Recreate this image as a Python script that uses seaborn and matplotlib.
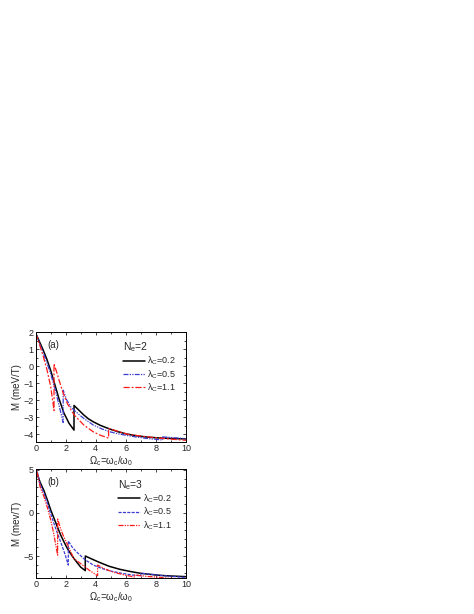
"""Magnetization M vs Omega_c for N_e=2 (a) and N_e=3 (b), three lambda_C values."""
import matplotlib
matplotlib.use("Agg")
import matplotlib.pyplot as plt
from matplotlib.ticker import MultipleLocator
import seaborn as sns

# ---- panel (a): N_e = 2 ------------------------------------------------
A_X_02 = [0, 0.25, 0.5, 0.75, 1.0, 1.25, 1.55, 1.88, 2.22, 2.55, 2.55, 2.9, 3.2, 3.5,
          3.83, 4.3, 4.94, 5.5, 6.05, 6.7, 7.38, 8.2, 9.0, 10]
A_Y_02 = [1.95, 1.45, 0.95, 0.4, -0.25, -1.0, -1.9, -2.75, -3.35, -3.75, -2.3, -2.6,
          -2.86, -3.08, -3.26, -3.47, -3.69, -3.85, -3.98, -4.08, -4.16, -4.21, -4.24, -4.27]
A_X_05 = [0, 0.25, 0.5, 0.75, 1.0, 1.25, 1.5, 1.83, 1.83, 2.05, 2.33, 2.55, 2.9, 3.2,
          3.83, 4.4, 4.94, 5.5, 6.05, 6.8, 7.6, 8.45, 8.45, 9.2, 10]
A_Y_05 = [1.95, 1.35, 0.8, 0.2, -0.45, -1.2, -2.1, -3.3, -1.4, -1.95, -2.38, -2.57,
          -2.85, -3.06, -3.45, -3.68, -3.85, -3.97, -4.06, -4.17, -4.26, -4.33, -4.15,
          -4.2, -4.25]
A_X_11 = [0, 0.25, 0.5, 0.75, 1.0, 1.22, 1.22, 1.4, 1.55, 1.8, 2.1, 2.55, 3.2, 3.83,
          4.3, 4.85, 4.85, 5.4, 6.05, 7.0, 8.0, 9.0, 10]
A_Y_11 = [1.95, 1.3, 0.6, -0.2, -1.2, -2.6, 0.15, -0.35, -0.8, -1.5, -2.18, -2.85,
          -3.45, -3.85, -4.05, -4.22, -3.65, -3.8, -3.98, -4.1, -4.2, -4.28, -4.35]

# ---- panel (b): N_e = 3 ------------------------------------------------
B_X_02 = [0, 0.3, 0.55, 0.8, 1.0, 1.25, 1.44, 1.66, 1.88, 2.1, 2.33, 2.55, 2.77, 3.0,
          3.3, 3.3, 3.8, 4.28, 4.9, 5.61, 6.3, 6.94, 7.6, 8.27, 9.1, 10]
B_Y_02 = [5.0, 3.55, 2.6, 1.4, 0.35, -0.75, -1.6, -2.55, -3.35, -4.1, -4.75, -5.3,
          -5.8, -6.3, -6.7, -5.0, -5.4, -5.77, -6.2, -6.55, -6.8, -7.0, -7.13, -7.25,
          -7.33, -7.4]
B_X_05 = [0, 0.08, 0.3, 0.55, 0.8, 1.0, 1.25, 1.5, 1.75, 1.95, 2.17, 2.17, 2.4, 2.65,
          2.95, 3.3, 3.83, 4.4, 5.0, 5.7, 6.4, 7.0, 7.0, 7.8, 8.6, 9.3, 10]
B_Y_05 = [4.3, 5.0, 3.3, 2.3, 1.0, -0.1, -1.4, -2.6, -3.8, -4.8, -6.05, -3.25, -3.9,
          -4.4, -4.9, -5.45, -6.05, -6.45, -6.75, -7.0, -7.2, -7.3, -7.0, -7.15, -7.3,
          -7.4, -7.5]
B_X_11 = [0, 0.08, 0.3, 0.55, 0.8, 1.0, 1.2, 1.46, 1.46, 1.65, 1.85, 2.1, 2.35, 2.55,
          2.85, 3.2, 3.6, 4.12, 4.12, 4.6, 5.2, 5.9, 6.6, 6.6, 7.3, 8.0, 9.0, 10]
B_Y_11 = [3.8, 4.9, 3.0, 1.9, 0.5, -0.8, -2.4, -4.9, -0.7, -1.8, -2.7, -3.6, -4.6,
          -5.3, -5.7, -6.15, -6.7, -7.3, -6.05, -6.5, -6.9, -7.2, -7.45, -7.2, -7.35,
          -7.45, -7.6, -7.7]

LAMBDAS = ["0.2", "0.5", "1.1"]

BLACK = "#000000"
BLUE = "#3c3cd0"
RED = "#ff1a1a"

sns.set_theme(style="ticks")
plt.rcParams["font.family"] = ["Liberation Sans", "DejaVu Sans"]
plt.rcParams["mathtext.fontset"] = "custom"
plt.rcParams["mathtext.rm"] = "Liberation Sans"
plt.rcParams["mathtext.it"] = "Liberation Sans"
plt.rcParams["mathtext.bf"] = "Liberation Sans:bold"

fig = plt.figure(figsize=(4.74, 6.14), dpi=100)
ax_a = fig.add_axes([0.0753, 0.2801, 0.317, 0.1787])
ax_b = fig.add_axes([0.0753, 0.0580, 0.317, 0.1780])

panels = [
    (ax_a, [(A_X_02, A_Y_02), (A_X_05, A_Y_05), (A_X_11, A_Y_11)],
     ["-", (0, (4, 1, 1, 1, 1, 1)), (0, (5, 1.5, 1.5, 1.5))],
     "(a)", "N$_e$=2", "M (meV/T)", (-4.45, 2), 1, 0.5, (0.58, 0.93)),
    (ax_b, [(B_X_02, B_Y_02), (B_X_05, B_Y_05), (B_X_11, B_Y_11)],
     ["-", (0, (2.5, 1)), (0, (4, 1, 1, 1, 1, 1))],
     "(b)", "N$_e$=3", "M (mev/T)", (-7.6, 5.1), 5, 1, (0.55, 0.92)),
]

for ax, curves, styles, tag, title, ylab, ylim, ymaj, ymin, anchor in panels:
    for (xs, ys), ls, col, lam in zip(curves, styles, [BLACK, BLUE, RED], LAMBDAS):
        sns.lineplot(x=xs, y=ys, ax=ax, sort=False, estimator=None, color=col,
                     linestyle=ls, linewidth=1.1 if col == BLACK else 0.9,
                     label=r"$\lambda_C$=" + lam)
    ax.set_xlim(0, 10)
    ax.set_ylim(*ylim)
    ax.xaxis.set_major_locator(MultipleLocator(2))
    ax.xaxis.set_minor_locator(MultipleLocator(1))
    ax.yaxis.set_major_locator(MultipleLocator(ymaj))
    ax.yaxis.set_minor_locator(MultipleLocator(ymin))
    ax.tick_params(which="both", direction="in", top=True, right=True,
                   labelsize=6.5, width=0.6, pad=1.5)
    ax.tick_params(which="major", length=2.5)
    ax.tick_params(which="minor", length=1.4)
    for s in ax.spines.values():
        s.set_linewidth(0.7)
        s.set_color("black")
    ax.set_xlabel(r"$\Omega_c$=$\omega_c$/$\omega_0$", fontsize=7, labelpad=0.5)
    ax.set_ylabel(ylab, fontsize=7, labelpad=1)
    ax.text(0.075, 0.88, tag, transform=ax.transAxes, fontsize=7, va="center")
    leg = ax.legend(title=title, loc="upper left", bbox_to_anchor=anchor,
                    frameon=False, fontsize=6.5, title_fontsize=7.5,
                    handlelength=2.4, handletextpad=0.3, labelspacing=0.1,
                    borderpad=0, borderaxespad=0, alignment="left")

fig.savefig("out.png", dpi=100)
